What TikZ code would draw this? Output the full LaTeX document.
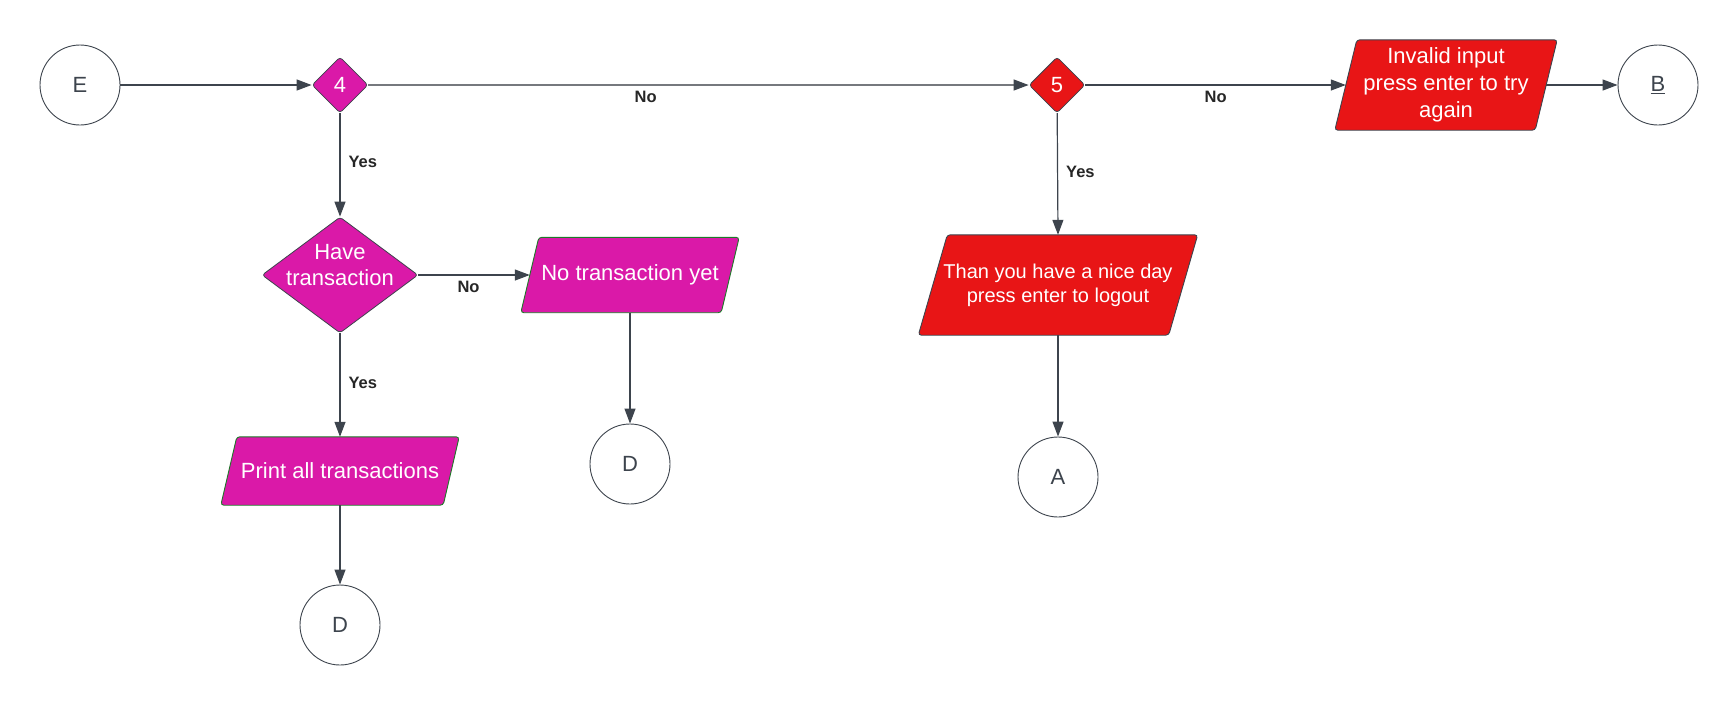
\documentclass[tikz,border=0pt]{standalone}
\usepackage{fontspec}
\setmainfont{Liberation Sans}
\usetikzlibrary{shapes.geometric,arrows.meta,backgrounds}
\definecolor{mag}{RGB}{218,25,168}
\definecolor{rd}{RGB}{232,21,22}
\definecolor{ln}{RGB}{61,68,77}
\definecolor{lgray}{RGB}{118,121,126}
\definecolor{grn}{RGB}{30,120,40}
\newcommand\pshape[4]{%
  \begin{scope}[on background layer]
  \draw[rounded corners=3pt, line width=0.9pt, fill=#3, draw=#4]
    ([xshift=#2/2]#1.north west) -- ([xshift=#2/2]#1.north east)
    -- ([xshift=-#2/2]#1.south east) -- ([xshift=-#2/2]#1.south west) -- cycle;
  \end{scope}}
\begin{document}
\begin{tikzpicture}[x=1pt,y=-1pt,
 conn/.style={circle, draw=ln, line width=0.9pt, fill=white, minimum size=80pt, inner sep=0pt, text=ln, font=\fontsize{22}{26}\selectfont},
 dia/.style={diamond, draw=ln, line width=0.8pt, rounded corners=3pt, inner sep=0pt, text=white, font=\fontsize{22}{26}\selectfont},
 para/.style={rectangle, inner sep=2pt, text=white, align=center, font=\fontsize{22}{27}\selectfont},
 arr/.style={draw=ln, line width=1.2pt, -{Triangle[length=15pt,width=11pt]}},
 lbl/.style={font=\bfseries\fontsize{16.5}{20}\selectfont, text=black!85, inner sep=0pt},
]
\useasboundingbox (0,0) rectangle (1734,705);

% nodes
\node[conn] (E) at (80,85) {E};
\node[dia, fill=mag, minimum width=56pt, minimum height=56pt] (d4) at (340,85) {4};
\node[dia, fill=rd, minimum width=56pt, minimum height=56pt] (d5) at (1057,85) {5};
\node[para, minimum width=200pt, minimum height=90pt] (inv) at (1446,85) {Invalid input\\press enter to try\\again};
\pshape{inv}{22}{rd}{ln}
\node[conn] (B) at (1658,85) {\underline{B}};
\node[dia, fill=mag, minimum width=156pt, minimum height=116pt,
      label={[text=white, align=center, font=\fontsize{22}{26}\selectfont, yshift=10pt]center:Have\\transaction}] (ht) at (340,275) {};
\node[para, minimum width=200pt, minimum height=75pt] (nt) at (630,275) {No transaction yet};
\pshape{nt}{18}{mag}{grn}
\node[para, minimum width=222pt, minimum height=68pt] (pr) at (340,471) {Print all transactions};
\pshape{pr}{16}{mag}{grn}
\node[conn] (D1) at (340,625) {D};
\node[conn] (D2) at (630,464) {D};
\node[para, minimum width=250pt, minimum height=100pt, font=\fontsize{20}{24}\selectfont] (th) at (1058,285) {Than you have a nice day\\press enter to logout};
\pshape{th}{29}{rd}{ln}
\node[conn] (A) at (1058,477) {A};

% connectors
\draw[arr] (E) -- (d4);
\draw[arr, draw=lgray, -{Triangle[length=15pt,width=11pt,color=ln]}] (d4) -- node[lbl, pos=0.42, yshift=-12pt] {No} (d5);
\draw[arr] (d5) -- node[lbl, pos=0.5, yshift=-12pt] {No} (inv.west);
\draw[arr] (inv.east) -- (B);
\draw[arr] (d4) -- node[lbl, pos=0.47, anchor=west, xshift=8pt] {Yes} (ht);
\draw[arr] (ht) -- node[lbl, pos=0.45, yshift=-12pt] {No} (nt.west);
\draw[arr] (ht) -- node[lbl, pos=0.48, anchor=west, xshift=8pt] {Yes} (pr.north);
\draw[arr] (pr.south) -- (D1);
\draw[arr] (nt.south) -- (D2);
\draw[arr] (d5) -- node[lbl, pos=0.48, anchor=west, xshift=8pt] {Yes} (th.north);
\draw[arr] (th.south) -- (A);
\end{tikzpicture}
\end{document}
